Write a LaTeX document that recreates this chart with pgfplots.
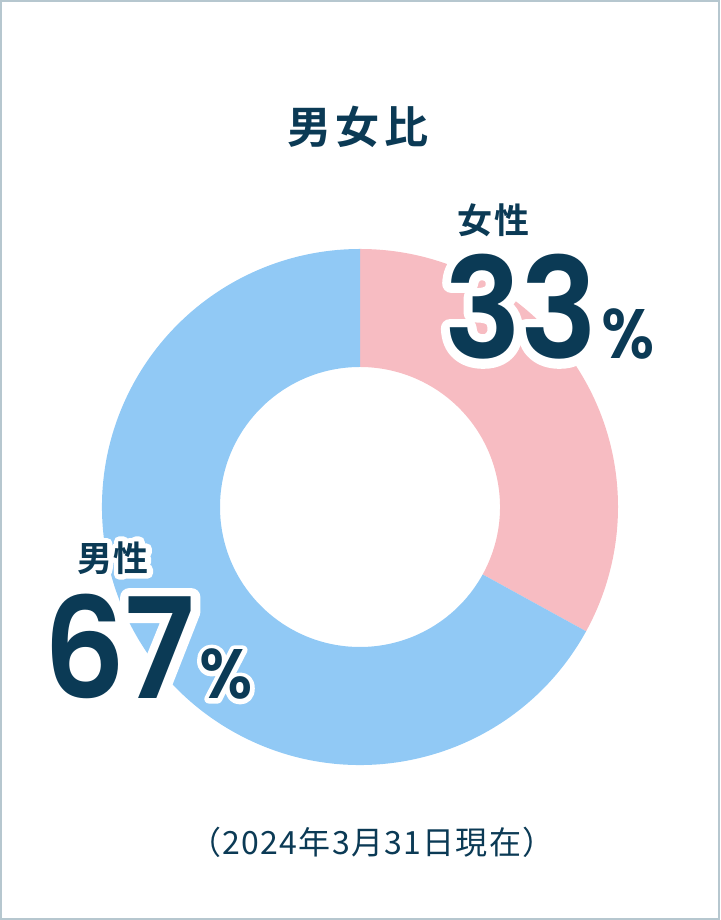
\documentclass[border=0pt]{standalone}
\usepackage{pgfplots}
\pgfplotsset{compat=1.18}
\usepackage{pgfplotstable}
\usetikzlibrary{calc}
\usepackage{fontspec}
\newfontfamily\jp{Noto Sans CJK JP}[BoldFont=* Bold]
\newfontfamily\jpw{Noto Sans CJK JP Bold}[FakeBold=30]
\newfontfamily\num{Poppins SemiBold}[FakeStretch=0.92]
\newfontfamily\numw{Poppins SemiBold}[FakeStretch=0.92, FakeBold=13]
\definecolor{navy}{HTML}{0B3A55}
\definecolor{pinkc}{HTML}{F7BCC2}
\definecolor{bluec}{HTML}{91C9F5}
\definecolor{framec}{HTML}{B6C7CF}

\pgfplotstableread{
label value
female 33
male 67
}\sharetable
\pgfplotstablegetelem{0}{value}\of\sharetable
\pgfmathsetmacro{\angf}{90-3.6*\pgfplotsretval}

% big percentage; a white stroked copy under the navy one gives the halo
\newcommand{\pct}[1]{{\fontsize{140}{140}\selectfont #1}\kern4pt{\fontsize{70}{70}\selectfont\%}}
\tikzset{halo/.style={text=white, line join=round, line cap=round}}

\begin{document}
\begin{tikzpicture}
\begin{axis}[
  width=720pt, height=920pt, scale only axis,
  xmin=0, xmax=720, ymin=0, ymax=920,
  hide axis, clip=false]
\coordinate (C) at (axis cs:360,413);
% donut: pink from top clockwise, then blue
\fill[pinkc] ($(C)+(90:258pt)$) arc[start angle=90, end angle=\angf, radius=258pt]
  -- ($(C)+(\angf:140pt)$) arc[start angle=\angf, end angle=90, radius=140pt] -- cycle;
\fill[bluec] ($(C)+(\angf:258pt)$) arc[start angle=\angf, end angle=-270, radius=258pt]
  -- ($(C)+(-270:140pt)$) arc[start angle=-270, end angle=\angf, radius=140pt] -- cycle;
% frame
\draw[framec, line width=2pt] (axis cs:1,1) rectangle (axis cs:719,919);
% title
\node[text=navy, font=\jp\bfseries\fontsize{44}{50}\selectfont] at (axis cs:358,793) {男\kern5pt 女\kern5pt 比};
% female label
\node[halo, font=\jpw\fontsize{35}{40}\selectfont] at (axis cs:493,700) {女\kern2pt 性};
\node[text=navy, font=\jp\bfseries\fontsize{35}{40}\selectfont] at (axis cs:493,700) {女\kern2pt 性};
\node[halo, anchor=base west, inner sep=0pt, font=\numw] at (axis cs:444,561) {\pct{3\kern-1pt 3}};
\node[text=navy, anchor=base west, inner sep=0pt, font=\num] at (axis cs:444,561) {\pct{3\kern-1pt 3}};
% male label
\node[halo, font=\jpw\fontsize{35}{40}\selectfont] at (axis cs:113,362) {男\kern2pt 性};
\node[text=navy, font=\jp\bfseries\fontsize{35}{40}\selectfont] at (axis cs:113,362) {男\kern2pt 性};
\node[halo, anchor=base west, inner sep=0pt, font=\numw] at (axis cs:43,221) {\pct{6\kern-1pt 7}};
\node[text=navy, anchor=base west, inner sep=0pt, font=\num] at (axis cs:43,221) {\pct{6\kern-1pt 7}};
% note
\node[text=navy, font=\jp\addfontfeatures{LetterSpace=4}\fontsize{32}{37}\selectfont] at (axis cs:372,78) {（2024年3月31日現在）};
\end{axis}
\pgfresetboundingbox
\path (0,0) rectangle (720pt,920pt);
\end{tikzpicture}
\end{document}
